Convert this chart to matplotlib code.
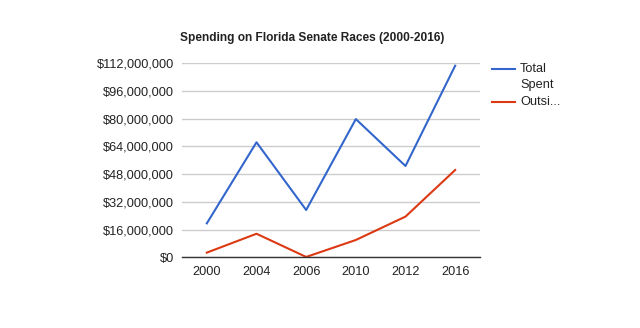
import matplotlib.pyplot as plt
from matplotlib.ticker import FuncFormatter
from matplotlib.lines import Line2D

# Spending data (dollars)
years = ['2000', '2004', '2006', '2010', '2012', '2016']
total_spent = [19600000, 66400000, 27300000, 79800000, 52700000, 110600000]
outside_spent = [2700000, 13600000, 200000, 10000000, 23500000, 50400000]
y_ticks = [0, 16000000, 32000000, 48000000, 64000000, 80000000, 96000000, 112000000]

BLUE = '#3366CC'
RED = '#DC3912'
TEXT = '#222222'

plt.rcParams['font.family'] = ['Liberation Sans', 'DejaVu Sans']

fig = plt.figure(figsize=(6.4, 3.28), dpi=100)
ax = fig.add_axes([182 / 640, 1 - 257.3 / 328, 298 / 640, 194 / 328])

x = range(len(years))
ax.plot(x, total_spent, color=BLUE, linewidth=1.5)
ax.plot(x, outside_spent, color=RED, linewidth=1.5)

ax.set_xlim(-0.5, len(years) - 0.5)
ax.set_ylim(0, 112000000)
ax.set_xticks(list(x))
ax.set_xticklabels(years)
ax.set_yticks(y_ticks)
ax.yaxis.set_major_formatter(FuncFormatter(lambda v, p: '${:,.0f}'.format(v)))

ax.grid(axis='y', color='#cccccc', linewidth=1)
ax.set_axisbelow(True)
for s in ['top', 'right', 'left']:
    ax.spines[s].set_visible(False)
ax.spines['bottom'].set_color('#333333')
ax.spines['bottom'].set_linewidth(1)
ax.tick_params(length=0, labelsize=9.2, colors=TEXT, pad=6)
ax.tick_params(axis='x', pad=6)

fig.text(312 / 640, 1 - 38 / 328, 'Spending on Florida Senate Races (2000-2016)',
         ha='center', va='center', fontsize=8.6, fontweight='bold', color=TEXT)

# legend drawn by hand, right of the plot
for y_px, col in [(69, BLUE), (102, RED)]:
    fig.add_artist(Line2D([492 / 640, 515 / 640], [1 - y_px / 328] * 2,
                          color=col, linewidth=1.5))
fig.text(520 / 640, 1 - 69 / 328, 'Total', fontsize=9.2, color=TEXT, va='center')
fig.text(520 / 640, 1 - 85 / 328, 'Spent', fontsize=9.2, color=TEXT, va='center')
fig.text(520 / 640, 1 - 102 / 328, 'Outsi...', fontsize=9.2, color=TEXT, va='center')

fig.savefig('out.png', dpi=100, facecolor='white')
